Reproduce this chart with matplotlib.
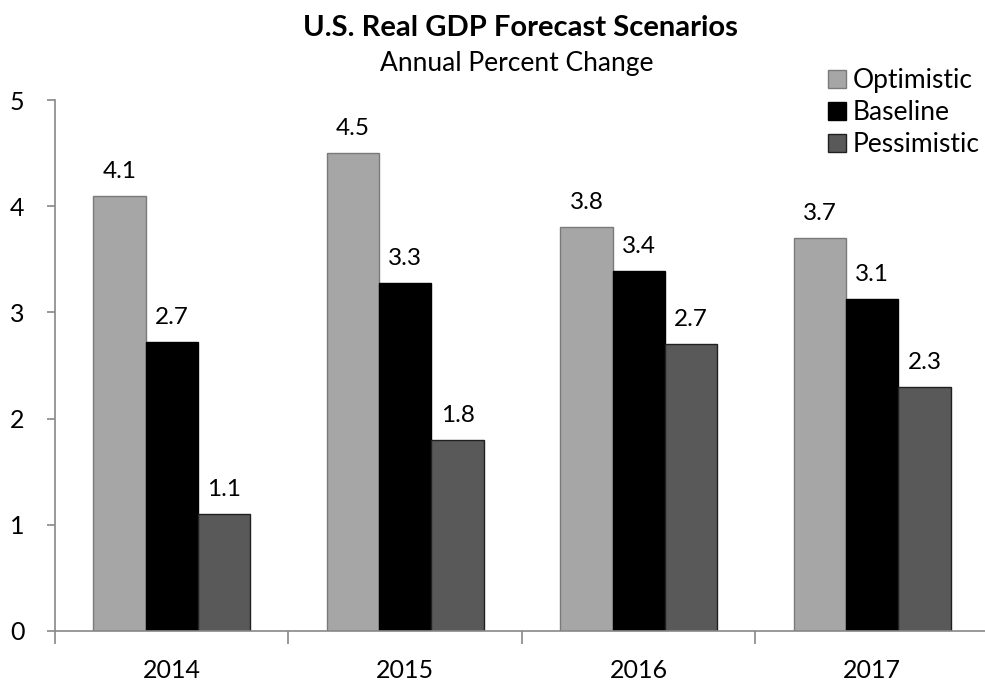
import matplotlib
matplotlib.use("Agg")
import matplotlib.pyplot as plt
import numpy as np

plt.rcParams['font.family'] = ['Lato', 'DejaVu Sans']

years = ["2014", "2015", "2016", "2017"]
series_names = ["Optimistic", "Baseline", "Pessimistic"]
optimistic = [4.1, 4.5, 3.8, 3.7]
baseline = [2.72, 3.28, 3.39, 3.13]
pessimistic = [1.1, 1.8, 2.7, 2.3]
labels_opt = ["4.1", "4.5", "3.8", "3.7"]
labels_base = ["2.7", "3.3", "3.4", "3.1"]
labels_pess = ["1.1", "1.8", "2.7", "2.3"]

colors = ["#A6A6A6", "#000000", "#595959"]
edges = ["#7a7a7a", "#000000", "#202020"]

fig = plt.figure(figsize=(9.85, 6.8), dpi=100)
ax = fig.add_axes([55/985, 49/680, 1 - 55/985 + 0.004, (631-100)/680])

x = np.arange(len(years))
w = 0.224
data = [optimistic, baseline, pessimistic]
labs = [labels_opt, labels_base, labels_pess]
for i, (vals, lb) in enumerate(zip(data, labs)):
    pos = x + (i - 1) * w
    bars = ax.bar(pos, vals, width=w, color=colors[i], edgecolor=edges[i],
                  linewidth=1, label=series_names[i])
    for b, t in zip(bars, lb):
        ax.annotate(t, (b.get_x() + b.get_width()/2, b.get_height()),
                    xytext=(0, 13), textcoords="offset points",
                    ha="center", va="baseline", fontsize=17.5)

ax.set_xlim(-0.5, 3.5)
ax.set_ylim(0, 5)
ax.set_yticks([0, 1, 2, 3, 4, 5])
ax.set_yticklabels(["0", "1", "2", "3", "4", "5"])
ax.set_xticks(x)
ax.set_xticklabels(years)
ax.set_xticks([-0.5, 0.5, 1.5, 2.5], minor=True)
ax.tick_params(axis='x', which='major', length=0, pad=20, labelsize=18)
ax.tick_params(axis='x', which='minor', length=9, color='#888888', width=1.2, direction='out')
ax.tick_params(axis='y', length=6, color='#888888', width=1.2, pad=16, labelsize=18)
for s in ['top', 'right']:
    ax.spines[s].set_visible(False)
for s in ['left', 'bottom']:
    ax.spines[s].set_color('#888888')
    ax.spines[s].set_linewidth(1.2)

fig.text(520/985, 1 - 28/680, "U.S. Real GDP Forecast Scenarios", ha="center", va="center",
         fontsize=21, fontweight="bold")
fig.text(517/985, 1 - 64/680, "Annual Percent Change", ha="center", va="center", fontsize=19)

leg = fig.legend(loc="upper left", bbox_to_anchor=(828/985, 1 - 68/680), frameon=False,
                 fontsize=19, handlelength=0.68, handleheight=0.68, handletextpad=0.27,
                 labelspacing=0.27, borderaxespad=0, borderpad=0)

fig.savefig("out.png", dpi=100)
